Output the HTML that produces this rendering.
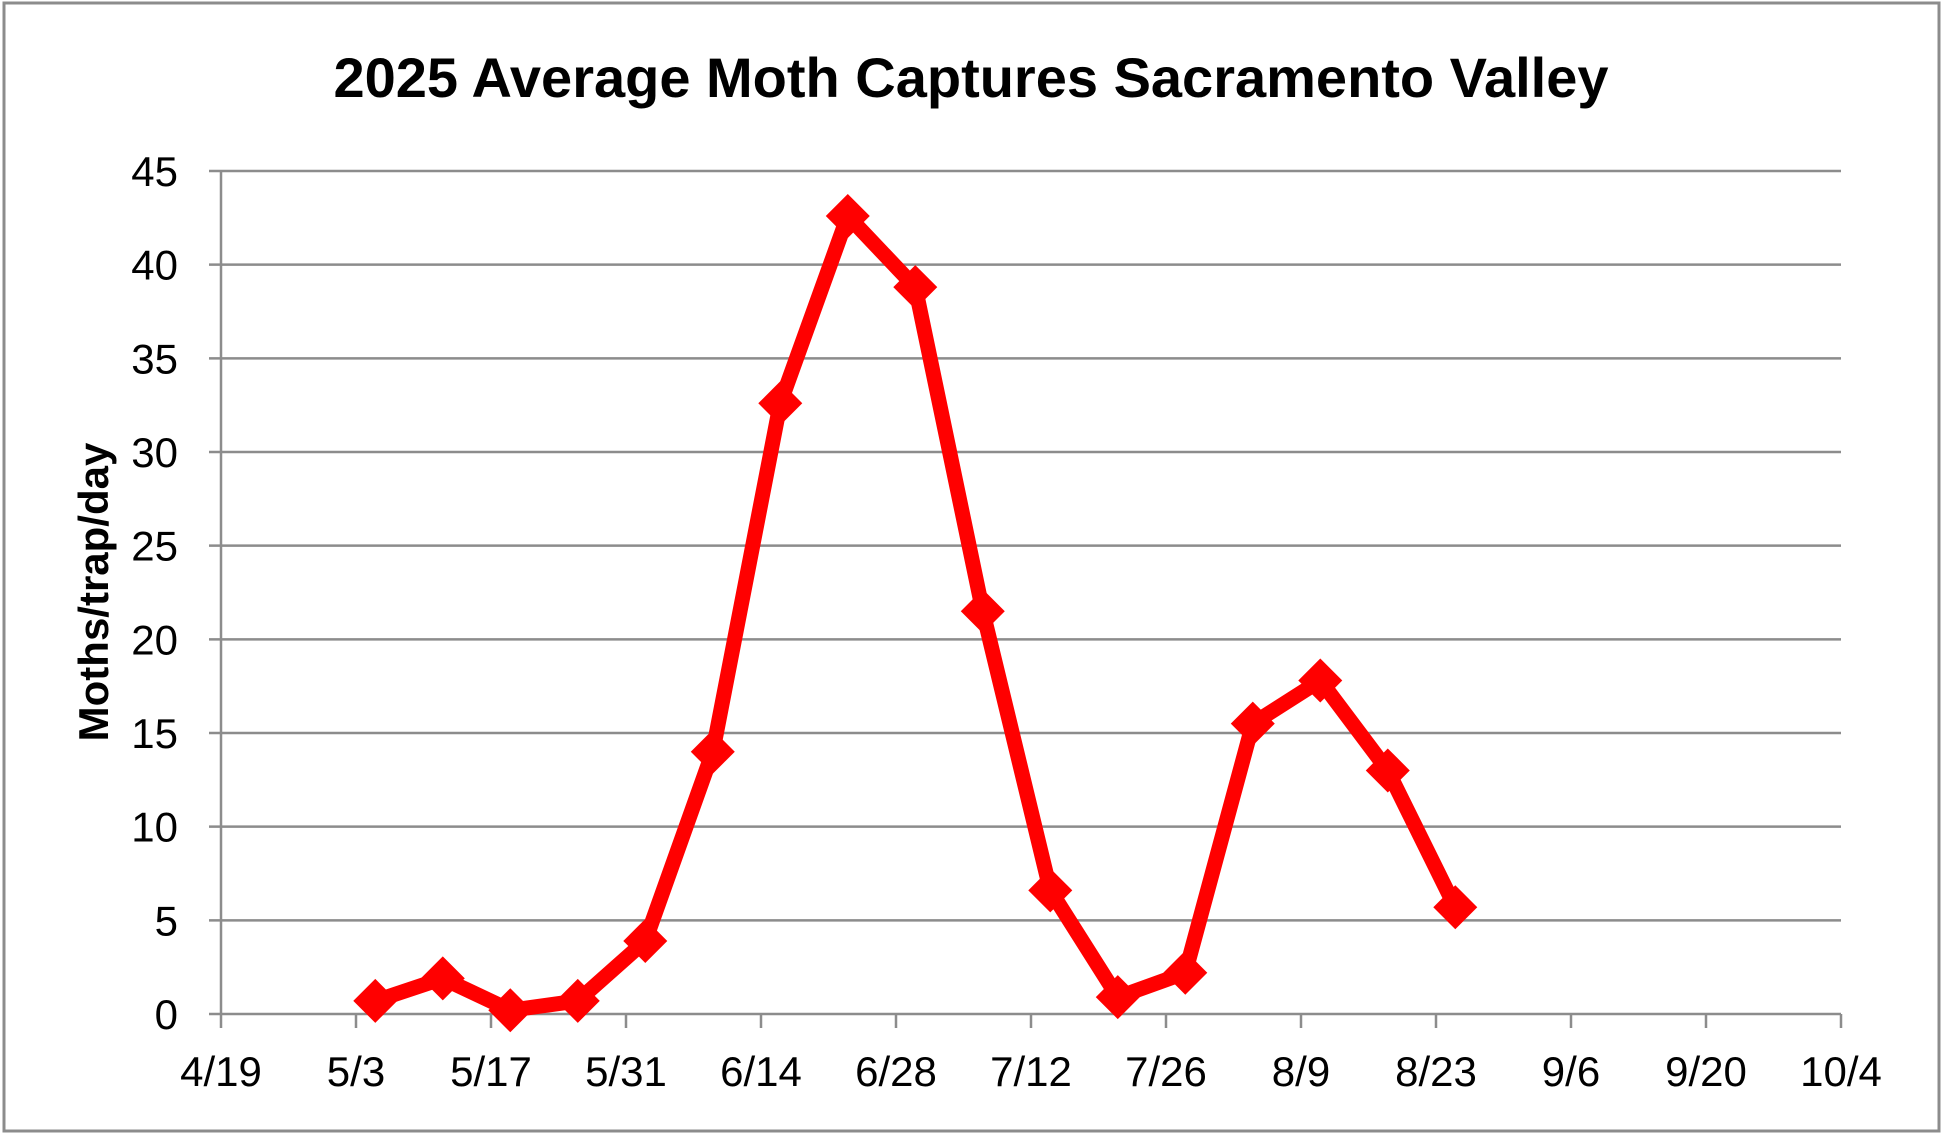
<!DOCTYPE html>
<html><head><meta charset="utf-8"><style>
html,body{margin:0;padding:0;background:#fff}
svg{display:block;font-family:"Liberation Sans",sans-serif}
</style></head><body>
<svg id="chart" width="1943" height="1136" viewBox="0 0 1943 1136">
<rect x="4" y="3" width="1935" height="1128" fill="#fff" stroke="#8c8c8c" stroke-width="3"/>
<text x="971" y="97" text-anchor="middle" font-size="56" font-weight="bold" fill="#000" textLength="1275" lengthAdjust="spacingAndGlyphs">2025 Average Moth Captures Sacramento Valley</text>
<text transform="translate(108,592) rotate(-90)" text-anchor="middle" font-size="42" font-weight="bold" fill="#000">Moths/trap/day</text>
<g id="grid"></g><g id="axes"></g><g id="series"></g>
</svg>
<script>
const yTicks=[0,5,10,15,20,25,30,35,40,45];
const xTickLabels=["4/19","5/3","5/17","5/31","6/14","6/28","7/12","7/26","8/9","8/23","9/6","9/20","10/4"];
const dayOffsets=[16,23,30,37,44,51,58,65,72,79,86,93,100,107,114,121,128];
const mothValues=[0.7,1.9,0.2,0.7,3.9,14,32.6,42.6,38.8,21.5,6.6,0.9,2.2,15.5,17.8,13,5.7];
const NS="http://www.w3.org/2000/svg";
const L=221,R=1841,Y0=1014,Y45=171,DAYS=168;
const xs=d=>L+(R-L)*d/DAYS, ys=v=>Y0+(Y45-Y0)*v/45;
function mk(t,a,p){const e=document.createElementNS(NS,t);for(const k in a)e.setAttribute(k,a[k]);p.appendChild(e);return e;}
const grid=document.getElementById('grid'),axes=document.getElementById('axes'),ser=document.getElementById('series');
yTicks.forEach(v=>{
 const l=mk('line',{x1:L-12,x2:R,y1:ys(v),y2:ys(v),stroke:'#8c8c8c','stroke-width':2.5},grid);
 
 
 const t=mk('text',{x:178,y:ys(v)+15,'text-anchor':'end','font-size':42,fill:'#000'},axes);
 t.textContent=v;
 
 
});
const ya=mk('line',{x1:L,x2:L,y1:Y45,y2:Y0,stroke:'#8c8c8c','stroke-width':2.5},axes);


xTickLabels.forEach((s,i)=>{
 const x=xs(i*14);
 const tk=mk('line',{x1:x,x2:x,y1:Y0,y2:Y0+14,stroke:'#8c8c8c','stroke-width':2.5},axes);
 
 
 const t=mk('text',{x:x,y:1086,'text-anchor':'middle','font-size':42,fill:'#000'},axes);
 t.textContent=s;
 
 
});
const pts=dayOffsets.map((d,i)=>xs(d)+','+ys(mothValues[i])).join(' ');
const pl=mk('polyline',{points:pts,fill:'none',stroke:'#ff0000','stroke-width':15,'stroke-linejoin':'round'},ser);


dayOffsets.forEach((d,i)=>{
 const x=xs(d),y=ys(mothValues[i]),r=22;
 const p=mk('polygon',{points:`${x},${y-r} ${x+r},${y} ${x},${y+r} ${x-r},${y}`,fill:'#ff0000'},ser);
 
 
});
</script>
</body></html>
